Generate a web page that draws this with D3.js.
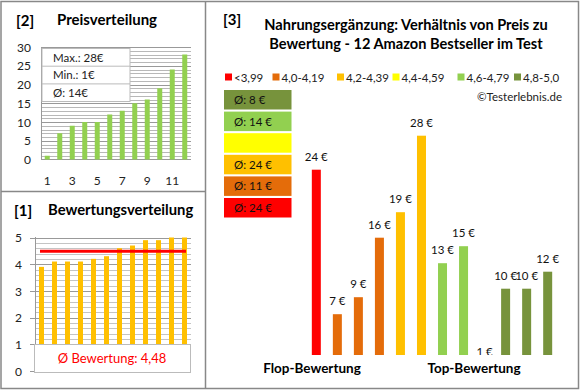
<!DOCTYPE html>
<html><head><meta charset="utf-8">
<script src="https://cdn.jsdelivr.net/npm/d3@7"></script>
<style>
html,body{margin:0;padding:0;background:#fff;}
svg{display:block;font-family:Lato,"Open Sans",sans-serif;}
</style></head>
<body><svg id="c" width="580" height="390"></svg>
<script>
// ---- data ----
const productIndex = [1,2,3,4,5,6,7,8,9,10,11,12];
const pricesSorted = [1,7,9,10,10,12,13,15,16,19,24,28];
const ratingsSorted = [3.9,4.1,4.1,4.1,4.2,4.3,4.6,4.7,4.9,4.9,5.0,5.0];
const mainPrices = [24,7,9,16,19,28,13,15,1,10,10,12];
const mainRatings = [3.9,4.1,4.1,4.1,4.2,4.3,4.6,4.7,4.9,4.9,5.0,5.0];
const classLabels = ["<3,99","4,0-4,19","4,2-4,39","4,4-4,59","4,6-4,79","4,8-5,0"];
const classColors = ["#FF0000","#E46C0A","#FFC000","#FFFF00","#92D050","#77933C"];
const classLower = [0,4.0,4.2,4.4,4.6,4.8];
const priceTicks = [0,5,10,15,20,25,30];
const priceXTicks = [1,3,5,7,9,11];
const ratingTicks = [0,1,2,3,4,5];

const svg = d3.select("#c");
const border = "#888";

// panel borders
svg.append("rect").attr("x",1).attr("y",1.5).attr("width",577.5).attr("height",387).attr("fill","none").attr("stroke",border).attr("stroke-width",1.5);
svg.append("line").attr("x1",205.5).attr("x2",205.5).attr("y1",1).attr("y2",389).attr("stroke",border).attr("stroke-width",1.5);
svg.append("line").attr("x1",1).attr("x2",205.5).attr("y1",191.5).attr("y2",191.5).attr("stroke",border).attr("stroke-width",1.5);

// ---- Panel 2: Preisverteilung ----
const p2 = svg.append("g");
p2.append("text").attr("x",16).attr("y",26).attr("font-size",15).attr("font-weight","bold").text("[2]");
p2.append("text").attr("x",57).attr("y",25).attr("font-size",15).attr("font-weight","bold").text("Preisverteilung");
const x2 = d3.scaleBand().domain(productIndex).range([41,191]);
const y2 = d3.scaleLinear().domain([0,30]).range([159.5,47]);
p2.append("g").selectAll("line").data(d3.range(1,31)).join("line")
  .attr("x1",41).attr("x2",191).attr("y1",d=>Math.round(y2(d))+0.5).attr("y2",d=>Math.round(y2(d))+0.5)
  .attr("stroke",d=>d%5===0?"#999":"#b8b8b8").attr("stroke-width",1);
p2.append("line").attr("x1",41.5).attr("x2",41.5).attr("y1",47).attr("y2",160).attr("stroke","#999");
p2.append("line").attr("x1",41).attr("x2",191).attr("y1",159.5).attr("y2",159.5).attr("stroke","#999");
p2.append("g").selectAll("rect").data(pricesSorted).join("rect")
  .attr("x",(d,i)=>x2(productIndex[i])+x2.bandwidth()/2-2.5).attr("width",5)
  .attr("y",d=>y2(d)).attr("height",d=>y2(0)-y2(d)).attr("fill","#92D050");
const ay2 = d3.axisLeft(y2).tickValues(priceTicks).tickFormat(d3.format("d")).tickSize(0).tickPadding(0);
p2.append("g").attr("transform","translate(31,0)").call(ay2)
  .call(g=>g.select(".domain").remove())
  .selectAll("text").attr("font-size",12).attr("font-family","Lato").attr("fill","#222").attr("dy","0.35em");
const ax2 = d3.axisBottom(x2).tickValues(priceXTicks).tickSize(0).tickPadding(0);
p2.append("g").attr("transform","translate(0,176)").call(ax2)
  .call(g=>g.select(".domain").remove())
  .selectAll("text").attr("font-size",12).attr("font-family","Lato").attr("fill","#222");
// stats box
const stats = [["Max.: ", d3.max(pricesSorted)], ["Min.: ", d3.min(pricesSorted)], ["Ø: ", Math.round(d3.mean(pricesSorted))]];
const sb = p2.append("g");
sb.append("rect").attr("x",42).attr("y",48.5).attr("width",88).attr("height",53).attr("fill","#fff").attr("stroke","#bbb");
sb.selectAll("line").data([1,2]).join("line").attr("x1",42).attr("x2",130).attr("y1",d=>48.5+d*17.7).attr("y2",d=>48.5+d*17.7).attr("stroke","#bbb");
sb.selectAll("text").data(stats).join("text").attr("x",53).attr("y",(d,i)=>61.5+i*17.7)
  .attr("font-size",11.5).attr("fill","#222").text(d=>d[0]+d[1]+"€");

// ---- Panel 1: Bewertungsverteilung ----
const p1 = svg.append("g");
p1.append("text").attr("x",14).attr("y",216).attr("font-size",15).attr("font-weight","bold").text("[1]");
p1.append("text").attr("x",48).attr("y",215).attr("font-size",14.8).attr("font-weight","bold").text("Bewertungsverteilung");
const x1 = d3.scaleBand().domain(productIndex).range([35,191]);
const y1 = d3.scaleLinear().domain([0,5]).range([371,237.5]);
p1.append("g").selectAll("line").data(d3.range(1,26).map(d=>d/5)).join("line")
  .attr("x1",35).attr("x2",191).attr("y1",d=>Math.round(y1(d))+0.5).attr("y2",d=>Math.round(y1(d))+0.5)
  .attr("stroke",d=>Math.abs(d-Math.round(d))<1e-6?"#999":"#c4c4c4");
p1.append("line").attr("x1",35.5).attr("x2",35.5).attr("y1",237).attr("y2",371.5).attr("stroke","#999");
p1.append("g").selectAll("line").data(ratingTicks).join("line")
  .attr("x1",30).attr("x2",35).attr("y1",d=>Math.round(y1(d))+0.5).attr("y2",d=>Math.round(y1(d))+0.5).attr("stroke","#999");
p1.append("g").selectAll("rect").data(ratingsSorted).join("rect")
  .attr("x",(d,i)=>x1(productIndex[i])+x1.bandwidth()/2-2.5).attr("width",5)
  .attr("y",d=>y1(d)).attr("height",d=>y1(0)-y1(d)).attr("fill","#FFC000");
const avgR = d3.mean(ratingsSorted);
p1.append("line").attr("x1",40).attr("x2",186).attr("y1",y1(avgR)).attr("y2",y1(avgR)).attr("stroke","#FF0000").attr("stroke-width",3);
const ay1 = d3.axisLeft(y1).tickValues(ratingTicks).tickFormat(d3.format("d")).tickSize(0).tickPadding(0);
p1.append("g").attr("transform","translate(22,0)").call(ay1)
  .call(g=>g.select(".domain").remove())
  .selectAll("text").attr("font-size",12).attr("font-family","Lato").attr("fill","#222").attr("dy","0.35em");
p1.append("rect").attr("x",34.5).attr("y",344.5).attr("width",156).attr("height",28).attr("fill","#fff").attr("stroke","#bbb");
p1.append("text").attr("x",112).attr("y",363).attr("text-anchor","middle").attr("font-size",13).attr("fill","#FF0000")
  .text("Ø Bewertung: " + avgR.toFixed(2).replace(".", ","));

// ---- Panel 3: main ----
const p3 = svg.append("g");
p3.append("text").attr("x",223).attr("y",25).attr("font-size",15).attr("font-weight","bold").text("[3]");
p3.append("text").attr("x",406).attr("y",30).attr("text-anchor","middle").attr("font-size",14.6).attr("font-weight","bold")
  .text("Nahrungsergänzung: Verhältnis von Preis zu");
p3.append("text").attr("x",406).attr("y",49).attr("text-anchor","middle").attr("font-size",14.6).attr("font-weight","bold")
  .text("Bewertung - 12 Amazon Bestseller im Test");
// legend
const legX = [225,272.5,337,392.5,457.5,514];
const lg = p3.append("g").selectAll("g").data(classLabels).join("g").attr("transform",(d,i)=>`translate(${legX[i]},0)`);
lg.append("rect").attr("x",0).attr("y",73.5).attr("width",7).attr("height",7).attr("fill",(d,i)=>classColors[i]);
lg.append("text").attr("x",9).attr("y",81.5).attr("font-size",11.5).attr("fill","#222").text(d=>d);
p3.append("text").attr("x",562).attr("y",101).attr("text-anchor","end").attr("font-size",11.5).attr("fill","#222").text("©Testerlebnis.de");

const classOf = r => { let c=0; classLower.forEach((l,i)=>{ if(r>=l) c=i; }); return c; };
// average boxes (top: best class)
const boxOrder = [5,4,3,2,1,0];
const avgs = classLabels.map((l,i)=>{
  const v = mainPrices.filter((p,j)=>classOf(mainRatings[j])===i);
  return v.length ? Math.round(d3.mean(v)) : null;
});
const bx = p3.append("g").selectAll("g").data(boxOrder).join("g").attr("transform",(c,k)=>`translate(224,${90+k*21.6})`);
bx.append("rect").attr("width",67.5).attr("height",19.5).attr("fill",c=>classColors[c]);
bx.append("text").attr("x",10).attr("y",14).attr("font-size",11.5).attr("fill","#111")
  .text(c=>avgs[c]===null?"":"Ø: "+avgs[c]+" €");

// bars
const x3 = d3.scaleBand().domain(productIndex).range([305.8,558.2]);
const y3 = d3.scaleLinear().domain([2.2,30]).range([355,118.7]);
p3.append("clipPath").attr("id","clip3").append("rect").attr("x",206).attr("y",100).attr("width",370).attr("height",255);
const bars = p3.append("g").attr("clip-path","url(#clip3)");
bars.selectAll("rect").data(mainPrices).join("rect")
  .attr("x",(d,i)=>x3(productIndex[i])+x3.bandwidth()/2-4.5).attr("width",9)
  .attr("y",d=>y3(Math.max(d,2.2))).attr("height",d=>y3(2.2)-y3(Math.max(d,2.2)))
  .attr("fill",(d,i)=>classColors[classOf(mainRatings[i])]);
bars.selectAll("text").data(mainPrices).join("text")
  .attr("x",(d,i)=>x3(productIndex[i])+x3.bandwidth()/2).attr("y",d=>y3(d)-9)
  .attr("text-anchor","middle").attr("font-size",11.5).attr("fill","#111").text(d=>d+" €");
p3.append("text").attr("x",312).attr("y",373).attr("text-anchor","middle").attr("font-size",13.5).attr("font-weight","bold").text("Flop-Bewertung");
p3.append("text").attr("x",474).attr("y",373).attr("text-anchor","middle").attr("font-size",13.5).attr("font-weight","bold").text("Top-Bewertung");
</script></body></html>
